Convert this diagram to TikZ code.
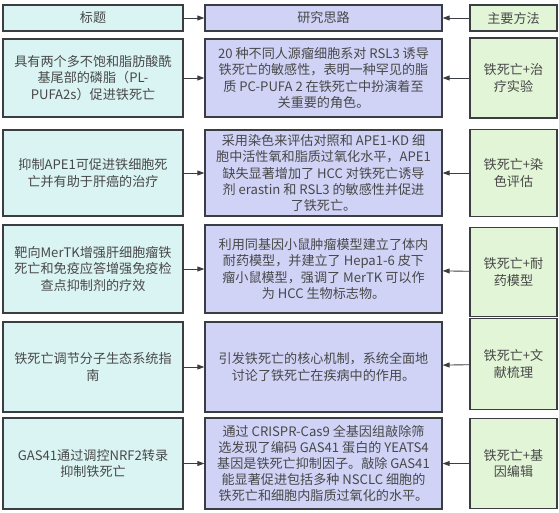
\documentclass[tikz,border=0pt]{standalone}
\usepackage{fontspec}
\newfontfamily\cjk{Noto Sans CJK SC}
\usetikzlibrary{arrows.meta}
\begin{document}
\begin{tikzpicture}[x=1pt,y=-1pt,
  kasten/.style={draw=dunkelgrau,line width=1.3pt,align=center,text=textgrau,
    font=\cjk\fontsize{13.1}{16.2}\selectfont,inner sep=0pt},
  titel/.style={kasten,fill=hellcyan,minimum width=180pt},
  idee/.style={kasten,fill=hellblau,minimum width=237pt},
  methode/.style={kasten,fill=hellgruen,minimum width=87pt},
  pfeil/.style={-{Triangle[length=7pt,width=5pt]},line width=0.9pt,draw=dunkelgrau}]

\definecolor{hellcyan}{RGB}{218,244,243};
\definecolor{hellblau}{RGB}{208,211,246};
\definecolor{hellgruen}{RGB}{226,245,215};
\definecolor{dunkelgrau}{RGB}{58,62,66};
\definecolor{textgrau}{RGB}{72,72,72};

\useasboundingbox (0,0) rectangle (559,513);

\node[titel,minimum height=26pt]   (t0) at (93,18)    {标题};
\node[idee,minimum height=26pt]    (s0) at (323.5,18) {研究思路};
\node[methode,minimum height=26pt] (m0) at (513.5,18) {主要方法};

\node[titel,minimum height=78pt]   (t1) at (93,78)    {具有两个多不饱和脂肪酸酰\\基尾部的磷脂（PL-\\PUFA2s）促进铁死亡};
\node[idee,minimum height=78pt]    (s1) at (323.5,78) {20 种不同人源瘤细胞系对 RSL3 诱导\\铁死亡的敏感性，表明一种罕见的脂\\质 PC-PUFA 2 在铁死亡中扮演着至\\关重要的角色。};
\node[methode,minimum height=80pt] (m1) at (513.5,78) {铁死亡+治\\疗实验};

\node[titel,minimum height=86pt]   (t2) at (93,173)    {抑制APE1可促进铁细胞死\\亡并有助于肝癌的治疗};
\node[idee,minimum height=86pt]    (s2) at (323.5,173) {采用染色来评估对照和 APE1-KD 细\\胞中活性氧和脂质过氧化水平，APE1\\缺失显著增加了 HCC 对铁死亡诱导\\剂 erastin 和 RSL3 的敏感性并促进\\了铁死亡。};
\node[methode,minimum height=87pt] (m2) at (513.5,173) {铁死亡+染\\色评估};

\node[titel,minimum height=88pt]   (t3) at (93,269)    {靶向MerTK增强肝细胞瘤铁\\死亡和免疫应答增强免疫检\\查点抑制剂的疗效};
\node[idee,minimum height=88pt]    (s3) at (323.5,269) {利用同基因小鼠肿瘤模型建立了体内\\耐药模型，并建立了 Hepa1-6 皮下\\瘤小鼠模型，强调了 MerTK 可以作\\为 HCC 生物标志物。};
\node[methode,minimum height=89pt] (m3) at (513.5,272) {铁死亡+耐\\药模型};

\node[titel,minimum height=90pt]   (t4) at (93,367)    {铁死亡调节分子生态系统指\\南};
\node[idee,minimum height=90pt]    (s4) at (323.5,367) {引发铁死亡的核心机制，系统全面地\\讨论了铁死亡在疾病中的作用。};
\node[methode,minimum height=91pt] (m4) at (513.5,364) {铁死亡+文\\献梳理};

\node[titel,minimum height=91pt]   (t5) at (93,463.5)    {GAS41通过调控NRF2转录\\抑制铁死亡};
\node[idee,minimum height=91pt]    (s5) at (323.5,463.5) {通过 CRISPR-Cas9 全基因组敲除筛\\选发现了编码 GAS41 蛋白的 YEATS4\\基因是铁死亡抑制因子。敲除 GAS41\\能显著促进包括多种 NSCLC 细胞的\\铁死亡和细胞内脂质过氧化的水平。};
\node[methode,minimum height=90pt] (m5) at (513.5,463.5) {铁死亡+基\\因编辑};

\foreach \i in {0,...,5} {
  \draw[pfeil] (t\i) -- (s\i);
  \draw[pfeil] (m\i) -- (s\i);
}
\end{tikzpicture}
\end{document}
